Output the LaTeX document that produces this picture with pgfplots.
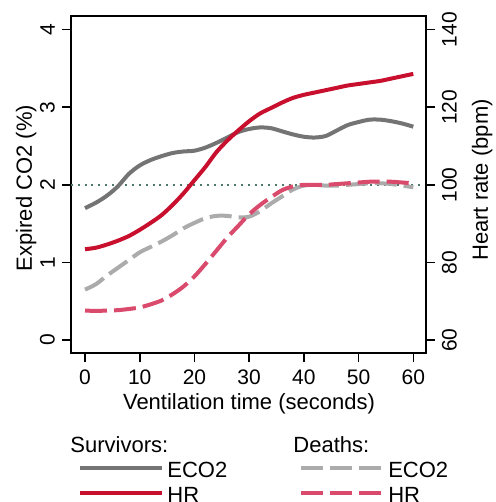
\documentclass[border=0pt]{standalone}
\usepackage{fontspec}
\setmainfont{Liberation Sans}
\setsansfont{Liberation Sans}
\usepackage{pgfplots}
\pgfplotsset{compat=1.18}
\definecolor{sEco}{HTML}{747474}
\definecolor{sHr}{HTML}{C8102E}
\definecolor{dEco}{HTML}{ABABAB}
\definecolor{dHr}{HTML}{D94A6C}
\definecolor{refl}{HTML}{4E7A68}
\newcommand{\tickfont}{\fontsize{10.5}{12}\selectfont}
\newcommand{\labfont}{\fontsize{11}{13}\selectfont}
\begin{document}
\begin{tikzpicture}
\pgfplotsset{
  common/.style={
    width=177.5pt, height=168.8pt, scale only axis,
    xmin=-2.56, xmax=62.32,
    tick align=outside, major tick length=4.5pt,
    every tick/.style={black, line width=0.8pt},
    /pgf/number format/assume math mode=true,
    axis line style={line width=1pt},
    clip=false,
  },
}
\begin{axis}[common, name=main,
  ymin=-0.171, ymax=4.18,
  xtick={0,10,20,30,40,50,60}, ytick={0,1,2,3,4},
  xtick pos=left, ytick pos=left,
  xticklabel style={font=\tickfont},
  yticklabel style={font=\tickfont, rotate=90, anchor=south},
  xlabel={Ventilation time (seconds)},
  ylabel={Expired CO2 (\%)},
  every axis x label/.style={at={(rel axis cs:0.5014,-0.165)}, anchor=base, font=\labfont},
  every axis y label/.style={at={(rel axis cs:-0.1099,0.4896)}, anchor=base, rotate=90, font=\labfont},
]
\addplot[refl, line width=1pt, dash pattern=on 1pt off 2.4pt] coordinates {(-2.56,2) (62.32,2)};
% Survivors ECO2
\addplot[sEco, line width=2pt, smooth] coordinates {
(0,1.70) (2,1.77) (4,1.86) (6,1.98) (8,2.14) (10,2.25) (12,2.32) (14,2.37) (16,2.41) (18,2.43) (20,2.44) (22,2.48) (24,2.54) (26,2.61) (28,2.68) (30,2.72) (32,2.74) (34,2.73) (36,2.69) (38,2.65) (40,2.62) (42,2.61) (44,2.63) (46,2.70) (48,2.77) (50,2.81) (52,2.84) (54,2.84) (56,2.82) (58,2.79) (60,2.75)};
% Deaths ECO2
\addplot[dEco, line width=2pt, dash pattern=on 11pt off 3.5pt, smooth] coordinates {
(0,0.65) (2,0.72) (4,0.83) (6,0.93) (8,1.03) (10,1.13) (12,1.20) (14,1.27) (16,1.35) (18,1.44) (20,1.51) (22,1.57) (24,1.60) (26,1.60) (28,1.58) (30,1.59) (32,1.66) (34,1.76) (36,1.85) (38,1.94) (40,1.99) (42,2.00) (44,1.99) (46,1.99) (48,2.00) (50,2.01) (52,2.02) (54,2.02) (56,2.01) (58,1.99) (60,1.97)};
\node[anchor=base west, font=\labfont, inner sep=0pt] at (rel axis cs:-0.0028,-0.2924) {Survivors:};
\node[anchor=base west, font=\labfont, inner sep=0pt] at (rel axis cs:0.6254,-0.2924) {Deaths:};
\end{axis}
\begin{axis}[common, name=hr,
  ymin=56.58, ymax=143.6,
  axis x line=none, axis y line*=right,
  ytick={60,80,100,120,140},
  yticklabel style={font=\tickfont, rotate=90, anchor=north},
  ylabel={Heart rate (bpm)},
  every axis y label/.style={at={(rel axis cs:1.1746,0.5133)}, anchor=base, rotate=90, font=\labfont},
  legend style={at={(rel axis cs:0.0197,-0.319)}, anchor=north west, draw=none, fill=none, inner sep=0pt,
    legend columns=2, font=\labfont,
    nodes={inner sep=0pt, text height=8pt, text depth=2pt},
    cells={anchor=base west}, row sep=2.5pt,
    /tikz/every odd column/.append style={column sep=1.5pt},
    /tikz/every even column/.append style={column sep=36pt}},
  legend image code/.code={\draw[#1] (0pt,4.5pt) -- (41pt,4.5pt);},
]
% Survivors HR
\addplot[sHr, line width=2pt, smooth, forget plot] coordinates {
(0,83.4) (2,83.8) (4,84.6) (6,85.6) (8,86.8) (10,88.4) (12,90.2) (14,92.2) (16,94.8) (18,97.8) (20,101.2) (22,104.6) (24,108.4) (26,111.4) (28,114.0) (30,116.4) (32,118.4) (34,119.8) (36,121.2) (38,122.4) (40,123.2) (42,123.8) (44,124.4) (46,125.0) (48,125.6) (50,126.0) (52,126.4) (54,126.8) (56,127.4) (58,128.0) (60,128.6)};
% Deaths HR
\addplot[dHr, line width=2pt, dash pattern=on 11pt off 3.5pt, smooth, forget plot] coordinates {
(0,67.6) (2,67.5) (4,67.6) (6,67.7) (8,68.0) (10,68.4) (12,69.2) (14,70.2) (16,71.8) (18,73.8) (20,76.4) (22,79.6) (24,83.0) (26,86.4) (28,89.4) (30,92.4) (32,94.8) (34,96.8) (36,98.6) (38,99.6) (40,100.0) (42,100.0) (44,100.0) (46,100.2) (48,100.4) (50,100.6) (52,100.8) (54,100.8) (56,100.8) (58,100.6) (60,100.4)};
\addlegendimage{sEco, line width=2pt}
\addlegendimage{dEco, line width=2pt, dash pattern=on 11pt off 3.5pt}
\addlegendimage{sHr, line width=2pt}
\addlegendimage{dHr, line width=2pt, dash pattern=on 11pt off 3.5pt}
\legend{ECO2, ECO2, HR, HR}
\end{axis}
\pgfresetboundingbox
\path[use as bounding box] ([shift={(-35.5pt,-74.35pt)}]main.south west) rectangle ([shift={(212.5pt,176.65pt)}]main.south west);
\end{tikzpicture}
\end{document}
